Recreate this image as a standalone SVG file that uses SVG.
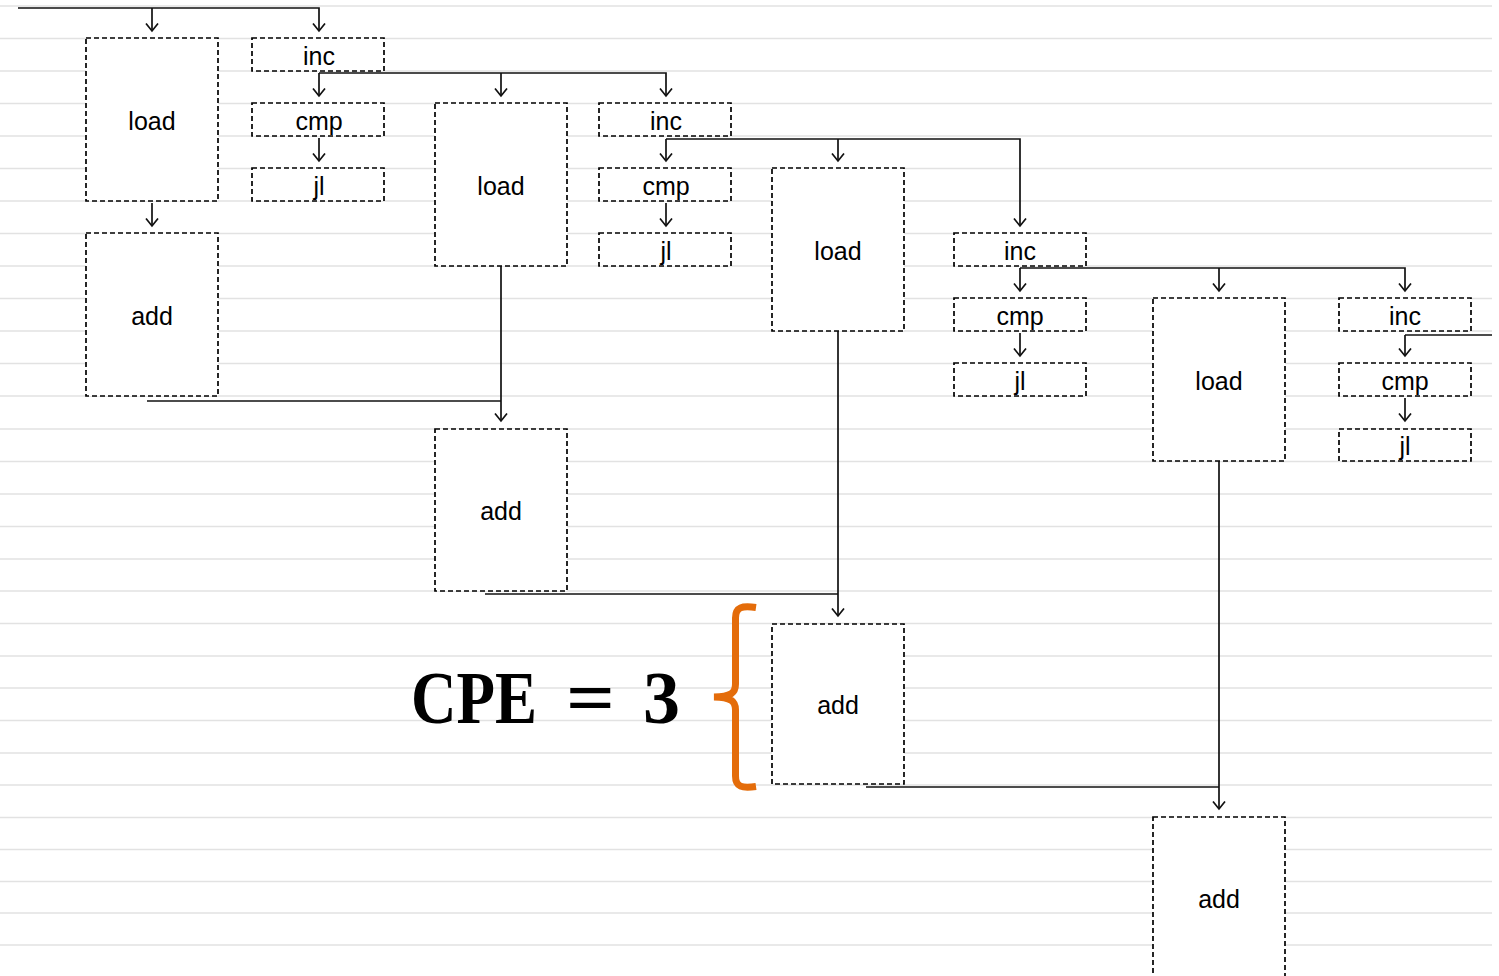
<svg xmlns="http://www.w3.org/2000/svg" width="1499" height="976" viewBox="0 0 1499 976">
<style>
.grid line{stroke:#e2e2e2;stroke-width:1.5}
.box{fill:#fff;stroke:#000;stroke-width:1.7;stroke-dasharray:5 3}
.lbl{font-family:"Liberation Sans",Arial,sans-serif;font-size:25px;fill:#000;text-anchor:middle}
.con path{fill:none;stroke:#111;stroke-width:1.7}
.arr{marker-end:url(#ah)}
</style>
<defs>
<marker id="ah" markerUnits="userSpaceOnUse" markerWidth="12" markerHeight="16" refX="8" refY="6.5" orient="auto" viewBox="0 0 12 16">
<path d="M0.5,0.5 L8,6.5 L0.5,12.5" fill="none" stroke="#111" stroke-width="1.7"/>
</marker>
</defs>
<rect width="1499" height="976" fill="#fff"/>
<g class="grid">
<line x1="0" x2="1492" y1="6" y2="6"/>
<line x1="0" x2="1492" y1="38.5" y2="38.5"/>
<line x1="0" x2="1492" y1="71" y2="71"/>
<line x1="0" x2="1492" y1="103.5" y2="103.5"/>
<line x1="0" x2="1492" y1="136" y2="136"/>
<line x1="0" x2="1492" y1="168.5" y2="168.5"/>
<line x1="0" x2="1492" y1="201" y2="201"/>
<line x1="0" x2="1492" y1="233.5" y2="233.5"/>
<line x1="0" x2="1492" y1="266" y2="266"/>
<line x1="0" x2="1492" y1="298.5" y2="298.5"/>
<line x1="0" x2="1492" y1="331" y2="331"/>
<line x1="0" x2="1492" y1="363.5" y2="363.5"/>
<line x1="0" x2="1492" y1="396" y2="396"/>
<line x1="0" x2="1492" y1="429" y2="429"/>
<line x1="0" x2="1492" y1="461.5" y2="461.5"/>
<line x1="0" x2="1492" y1="494" y2="494"/>
<line x1="0" x2="1492" y1="526.5" y2="526.5"/>
<line x1="0" x2="1492" y1="559" y2="559"/>
<line x1="0" x2="1492" y1="591" y2="591"/>
<line x1="0" x2="1492" y1="623.5" y2="623.5"/>
<line x1="0" x2="1492" y1="656" y2="656"/>
<line x1="0" x2="1492" y1="688" y2="688"/>
<line x1="0" x2="1492" y1="720.5" y2="720.5"/>
<line x1="0" x2="1492" y1="753" y2="753"/>
<line x1="0" x2="1492" y1="785" y2="785"/>
<line x1="0" x2="1492" y1="817.5" y2="817.5"/>
<line x1="0" x2="1492" y1="849.5" y2="849.5"/>
<line x1="0" x2="1492" y1="881.5" y2="881.5"/>
<line x1="0" x2="1492" y1="913" y2="913"/>
<line x1="0" x2="1492" y1="945" y2="945"/>
</g>
<g id="load1"><rect class="box" x="86" y="38" width="132" height="163"/><text class="lbl" x="152" y="130">load</text></g>
<g id="inc1"><rect class="box" x="252" y="38" width="132" height="33"/><text class="lbl" x="319" y="65">inc</text></g>
<g id="cmp1"><rect class="box" x="252" y="103" width="132" height="33"/><text class="lbl" x="319" y="130">cmp</text></g>
<g id="jl1"><rect class="box" x="252" y="168" width="132" height="33"/><text class="lbl" x="319" y="195">jl</text></g>
<g id="add1"><rect class="box" x="86" y="233" width="132" height="163"/><text class="lbl" x="152" y="325">add</text></g>
<g id="load2"><rect class="box" x="435" y="103" width="132" height="163"/><text class="lbl" x="501" y="195">load</text></g>
<g id="inc2"><rect class="box" x="599" y="103" width="132" height="33"/><text class="lbl" x="666" y="130">inc</text></g>
<g id="cmp2"><rect class="box" x="599" y="168" width="132" height="33"/><text class="lbl" x="666" y="195">cmp</text></g>
<g id="jl2"><rect class="box" x="599" y="233" width="132" height="33"/><text class="lbl" x="666" y="260">jl</text></g>
<g id="add2"><rect class="box" x="435" y="429" width="132" height="162"/><text class="lbl" x="501" y="520">add</text></g>
<g id="load3"><rect class="box" x="772" y="168" width="132" height="163"/><text class="lbl" x="838" y="260">load</text></g>
<g id="inc3"><rect class="box" x="954" y="233" width="132" height="33"/><text class="lbl" x="1020" y="260">inc</text></g>
<g id="cmp3"><rect class="box" x="954" y="298" width="132" height="33"/><text class="lbl" x="1020" y="325">cmp</text></g>
<g id="jl3"><rect class="box" x="954" y="363" width="132" height="33"/><text class="lbl" x="1020" y="390">jl</text></g>
<g id="add3"><rect class="box" x="772" y="624" width="132" height="160"/><text class="lbl" x="838" y="714">add</text></g>
<g id="load4"><rect class="box" x="1153" y="298" width="132" height="163"/><text class="lbl" x="1219" y="390">load</text></g>
<g id="inc4"><rect class="box" x="1339" y="298" width="132" height="33"/><text class="lbl" x="1405" y="325">inc</text></g>
<g id="cmp4"><rect class="box" x="1339" y="363" width="132" height="33"/><text class="lbl" x="1405" y="390">cmp</text></g>
<g id="jl4"><rect class="box" x="1339" y="429" width="132" height="32"/><text class="lbl" x="1405" y="455">jl</text></g>
<g id="add4"><rect class="box" x="1153" y="817" width="132" height="162"/><text class="lbl" x="1219" y="908">add</text></g>
<g id="connectors" class="con">
<path class="arr" d="M18,8 H319 V31"/>
<path class="arr" d="M152,8 V31"/>
<path class="arr" d="M319,73 V96"/>
<path class="arr" d="M319,73 H666 V96"/>
<path class="arr" d="M501,73 V96"/>
<path class="arr" d="M319,138 V161"/>
<path class="arr" d="M152,203 V226"/>
<path d="M147,401 H501"/>
<path class="arr" d="M501,266 V421"/>
<path class="arr" d="M666,139 H1020 V226"/>
<path class="arr" d="M666,139 V161"/>
<path class="arr" d="M838,139 V161"/>
<path class="arr" d="M666,203 V226"/>
<path d="M485,594 H838"/>
<path class="arr" d="M838,331 V616"/>
<path class="arr" d="M1020,268 H1405 V291"/>
<path class="arr" d="M1020,268 V291"/>
<path class="arr" d="M1219,268 V291"/>
<path class="arr" d="M1020,333 V356"/>
<path d="M1405,335 H1492"/>
<path class="arr" d="M1405,335 V356"/>
<path class="arr" d="M1405,398 V421"/>
<path d="M866,787 H1219"/>
<path class="arr" d="M1219,461 V809"/>
</g>
<g id="cpe">
<text font-family="'Liberation Serif','Times New Roman',serif" font-weight="bold" font-size="74" fill="#000" y="723"><tspan x="411" textLength="126" lengthAdjust="spacingAndGlyphs">CPE</tspan><tspan x="566" textLength="49" lengthAdjust="spacingAndGlyphs">=</tspan><tspan x="643">3</tspan></text>
<path d="M756,607.5 C742,605.5 735.5,607 735.5,618 L735.5,684 C735.5,693 731,696.5 714,697 C731,697.5 735.5,701 735.5,710 L735.5,776 C735.5,787 742,788.5 756,786.5" fill="none" stroke="#e46c0a" stroke-width="7"/>
</g>
</svg>
